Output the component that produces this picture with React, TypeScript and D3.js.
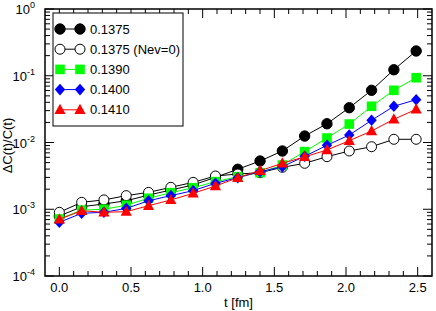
import React from "react";
import * as d3 from "d3";

const tValues = d3.range(17).map((i) => i * 0.1556);
const kappa1375 = [0.00079, 0.00109, 0.0012, 0.00134, 0.00163, 0.00194, 0.00231, 0.00301, 0.00397, 0.00528, 0.00746, 0.0125, 0.0191, 0.0332, 0.0605, 0.123, 0.235];
const kappa1375Nev0 = [0.0009, 0.00127, 0.00138, 0.0016, 0.00179, 0.00213, 0.00253, 0.00315, 0.00337, 0.00353, 0.00425, 0.00488, 0.00613, 0.00746, 0.00865, 0.01117, 0.01117];
const kappa1390 = [0.000714, 0.00097, 0.001, 0.00115, 0.00146, 0.00177, 0.0021, 0.00259, 0.00307, 0.00353, 0.0046, 0.0073, 0.01167, 0.0189, 0.0349, 0.0605, 0.0935];
const kappa1400 = [0.000637, 0.00087, 0.0009, 0.00103, 0.00134, 0.0016, 0.0019, 0.00245, 0.00297, 0.00365, 0.00434, 0.00621, 0.00908, 0.01295, 0.0215, 0.0349, 0.0438];
const kappa1410 = [0.000707, 0.00095, 0.0009, 0.00092, 0.00113, 0.00138, 0.00173, 0.00223, 0.00297, 0.00378, 0.00488, 0.0061, 0.00772, 0.01064, 0.01487, 0.0223, 0.0314];

const seriesLabels = ["0.1375", "0.1375 (Nev=0)", "0.1390", "0.1400", "0.1410"];
const xTickLabels = ["0.0", "0.5", "1.0", "1.5", "2.0", "2.5"];
const yDecadeExps = [-4, -3, -2, -1, 0];

const FONT = "'Liberation Sans', Arial, Helvetica, sans-serif";

type Marker = "circle" | "ocircle" | "square" | "diamond" | "triangle";
const series: { label: string; values: number[]; color: string; fill: string; marker: Marker }[] = [
  { label: seriesLabels[0], values: kappa1375, color: "#000000", fill: "#000000", marker: "circle" },
  { label: seriesLabels[1], values: kappa1375Nev0, color: "#000000", fill: "#ffffff", marker: "ocircle" },
  { label: seriesLabels[2], values: kappa1390, color: "#00ff00", fill: "#00ff00", marker: "square" },
  { label: seriesLabels[3], values: kappa1400, color: "#0000ff", fill: "#0000ff", marker: "diamond" },
  { label: seriesLabels[4], values: kappa1410, color: "#ff0000", fill: "#ff0000", marker: "triangle" },
];

function MarkerShape({ type, x, y, fill, color }: { type: Marker; x: number; y: number; fill: string; color: string }) {
  switch (type) {
    case "circle":
      return <circle cx={x} cy={y} r={5.2} fill={fill} stroke={color} strokeWidth={1} />;
    case "ocircle":
      return <circle cx={x} cy={y} r={5} fill="#fff" stroke={color} strokeWidth={1} />;
    case "square":
      return <rect x={x - 4.8} y={y - 4.8} width={9.6} height={9.6} fill={fill} />;
    case "diamond":
      return <path d={`M${x},${y - 5.8}L${x + 5.2},${y}L${x},${y + 5.8}L${x - 5.2},${y}Z`} fill={fill} />;
    case "triangle":
      return <path d={`M${x},${y - 6}L${x + 5.6},${y + 4.2}L${x - 5.6},${y + 4.2}Z`} fill={fill} />;
  }
}

export default function App() {
  const W = 436, H = 311;
  const left = 45, right = 432, top = 9, bottom = 276;
  const x = d3.scaleLinear().domain([-0.1, 2.6]).range([left, right]);
  const y = d3.scaleLog().domain([1e-4, 1]).range([bottom, top]);
  const line = d3.line<[number, number]>().x((d) => x(d[0])).y((d) => y(d[1]));

  const xMinor = d3.range(0, 26).map((i) => i * 0.1).filter((v) => Math.abs(v * 2 - Math.round(v * 2)) > 1e-6);
  const xMajor = xTickLabels.map((s) => +s);
  const yMinor: number[] = [];
  for (let e = -4; e < 0; e++) for (let m = 2; m <= 9; m++) yMinor.push(m * Math.pow(10, e));

  const MJ = 9, MN = 5;

  return (
    <svg width={W} height={H} style={{ position: "absolute", left: 0, top: 0 }} fontFamily={FONT}>
      <rect width={W} height={H} fill="#fff" />
      {/* ticks */}
      <g stroke="#000" strokeWidth={1}>
        {xMajor.map((v) => (
          <g key={"xM" + v}>
            <line x1={x(v)} x2={x(v)} y1={bottom} y2={bottom - MJ} />
            <line x1={x(v)} x2={x(v)} y1={top} y2={top + MJ} />
          </g>
        ))}
        {xMinor.map((v) => (
          <g key={"xm" + v}>
            <line x1={x(v)} x2={x(v)} y1={bottom} y2={bottom - MN} />
            <line x1={x(v)} x2={x(v)} y1={top} y2={top + MN} />
          </g>
        ))}
        {yDecadeExps.map((e) => (
          <g key={"yM" + e}>
            <line x1={left} x2={left + MJ} y1={y(Math.pow(10, e))} y2={y(Math.pow(10, e))} />
            <line x1={right} x2={right - MJ} y1={y(Math.pow(10, e))} y2={y(Math.pow(10, e))} />
          </g>
        ))}
        {yMinor.map((v, i) => (
          <g key={"ym" + i}>
            <line x1={left} x2={left + MN} y1={y(v)} y2={y(v)} />
            <line x1={right} x2={right - MN} y1={y(v)} y2={y(v)} />
          </g>
        ))}
      </g>
      {/* series */}
      {series.map((s) => {
        const pts = tValues.map((t, i) => [t, s.values[i]] as [number, number]);
        return (
          <g key={s.label}>
            <path d={line(pts) || ""} fill="none" stroke={s.color} strokeWidth={1} />
            {pts.map((p, i) => (
              <MarkerShape key={i} type={s.marker} x={x(p[0])} y={y(p[1])} fill={s.fill} color={s.color} />
            ))}
          </g>
        );
      })}
      {/* frame */}
      <rect x={left} y={top} width={right - left} height={bottom - top} fill="none" stroke="#000" strokeWidth={1.5} />
      {/* x tick labels */}
      {xTickLabels.map((s) => (
        <text key={s} x={x(+s)} y={292} fontSize={13} textAnchor="middle">{s}</text>
      ))}
      <text x={(left + right) / 2} y={307} fontSize={13} textAnchor="middle">t [fm]</text>
      {/* y tick labels */}
      {yDecadeExps.map((e) => (
        <text key={e} x={35} y={y(Math.pow(10, e)) + 5} fontSize={13} textAnchor="end">
          10
          <tspan fontSize={9} dy={-6}>{e}</tspan>
        </text>
      ))}
      <text transform={`translate(12,${(top + bottom) / 2 + 3}) rotate(-90)`} fontSize={13} textAnchor="middle">ΔC(t)/C(t)</text>
      {/* legend */}
      <rect x={53} y={13} width={130} height={113} fill="#fff" stroke="#000" strokeWidth={1} />
      {series.map((s, i) => {
        const ly = 29 + i * 20.2;
        return (
          <g key={"lg" + i}>
            <line x1={60} x2={80} y1={ly} y2={ly} stroke={s.color} strokeWidth={1} />
            <MarkerShape type={s.marker} x={60} y={ly} fill={s.fill} color={s.color} />
            <MarkerShape type={s.marker} x={80} y={ly} fill={s.fill} color={s.color} />
            <text x={90} y={ly + 4.5} fontSize={13}>{s.label}</text>
          </g>
        );
      })}
    </svg>
  );
}
